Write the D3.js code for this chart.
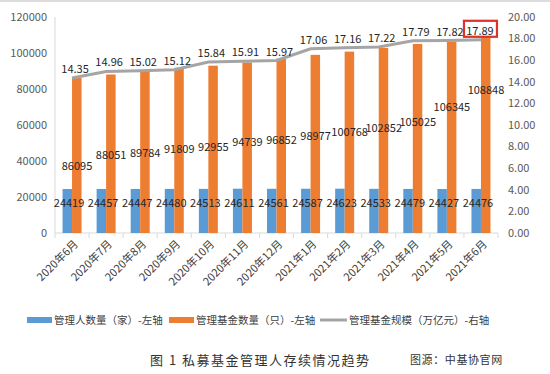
<!DOCTYPE html>
<html>
<head>
<meta charset="utf-8">
<script src="https://cdn.jsdelivr.net/npm/d3@7"></script>
<style>
  body { margin: 0; background: #fff; }
  svg text { font-family: "Noto Sans CJK SC", "Liberation Sans", sans-serif; }
</style>
</head>
<body>
<div id="chart"></div>
<script>
// data
var months = ["2020年6月", "2020年7月", "2020年8月", "2020年9月", "2020年10月", "2020年11月", "2020年12月",
              "2021年1月", "2021年2月", "2021年3月", "2021年4月", "2021年5月", "2021年6月"];
var managers = [24419, 24457, 24447, 24480, 24513, 24611, 24561, 24587, 24623, 24533, 24479, 24427, 24476];
var funds = [86095, 88051, 89784, 91809, 92955, 94739, 96852, 98977, 100768, 102852, 105025, 106345, 108848];
var scale = [14.35, 14.96, 15.02, 15.12, 15.84, 15.91, 15.97, 17.06, 17.16, 17.22, 17.79, 17.82, 17.89];
var leftTicks = [0, 20000, 40000, 60000, 80000, 100000, 120000];
var rightTicks = [0, 2, 4, 6, 8, 10, 12, 14, 16, 18, 20];
var legendNames = ["管理人数量（家）-左轴", "管理基金数量（只）-左轴", "管理基金规模（万亿元）-右轴"];

var width = 550, height = 374;
var margin = {top: 17, right: 52, bottom: 141, left: 55};
var innerW = width - margin.left - margin.right;
var innerH = height - margin.top - margin.bottom;

var blue = "#5b9bd5", orange = "#ed7d31", gray = "#a5a5a5", txt = "#404040";

var svg = d3.select("#chart").append("svg")
  .attr("width", width)
  .attr("height", height);

svg.append("line")
  .attr("x1", 0).attr("x2", width).attr("y1", 1).attr("y2", 1)
  .attr("stroke", "#dcdcdc").attr("stroke-width", 2);

var g = svg.append("g")
  .attr("transform", `translate(${margin.left},${margin.top})`);

var x = d3.scaleBand().domain(months).range([0, innerW]);
var yL = d3.scaleLinear().domain([0, 120000]).range([innerH, 0]);
var yR = d3.scaleLinear().domain([0, 20]).range([innerH, 0]);
var barW = 9.5;
var cx = function(i) { return x(months[i]) + x.bandwidth() / 2; };

// axes
g.append("line")
  .attr("x1", 0).attr("x2", 0).attr("y1", 0).attr("y2", innerH)
  .attr("stroke", "#d9d9d9");

var xAxis = g.append("g")
  .attr("transform", `translate(0,${innerH})`);
xAxis.append("line")
  .attr("x1", 0).attr("x2", innerW)
  .attr("stroke", "#d9d9d9");
xAxis.selectAll(".tk")
  .data(months.concat([null]))
  .enter().append("line")
  .attr("x1", function(d, i) { return i * x.step(); })
  .attr("x2", function(d, i) { return i * x.step(); })
  .attr("y1", 0).attr("y2", 5)
  .attr("stroke", "#d9d9d9");

xAxis.selectAll(".xl")
  .data(months)
  .enter().append("text")
  .attr("transform", function(d, i) { return `translate(${cx(i) + 4},${9}) rotate(-45)`; })
  .attr("text-anchor", "end")
  .attr("dy", "0.35em")
  .attr("font-size", 11)
  .attr("fill", txt)
  .text(function(d) { return d; });

g.selectAll(".yl")
  .data(leftTicks)
  .enter().append("text")
  .attr("x", -8)
  .attr("y", function(d) { return yL(d); })
  .attr("dy", "0.35em")
  .attr("text-anchor", "end")
  .attr("font-size", 11)
  .attr("fill", "#595959")
  .text(function(d) { return d; });

g.selectAll(".yr")
  .data(rightTicks)
  .enter().append("text")
  .attr("x", innerW + 10)
  .attr("y", function(d) { return yR(d); })
  .attr("dy", "0.35em")
  .attr("font-size", 11)
  .attr("fill", "#595959")
  .text(function(d) { return d.toFixed(2); });

// bars
g.selectAll(".bm")
  .data(managers)
  .enter().append("rect")
  .attr("x", function(d, i) { return cx(i) - barW; })
  .attr("y", function(d) { return yL(d); })
  .attr("width", barW)
  .attr("height", function(d) { return innerH - yL(d); })
  .attr("fill", blue);

g.selectAll(".bf")
  .data(funds)
  .enter().append("rect")
  .attr("x", function(d, i) { return cx(i); })
  .attr("y", function(d) { return yL(d); })
  .attr("width", barW)
  .attr("height", function(d) { return innerH - yL(d); })
  .attr("fill", orange);

// line
var line = d3.line()
  .x(function(d, i) { return cx(i); })
  .y(function(d) { return yR(d); });

g.append("path")
  .datum(scale)
  .attr("d", line)
  .attr("fill", "none")
  .attr("stroke", gray)
  .attr("stroke-width", 3);

// labels
g.selectAll(".lm")
  .data(managers)
  .enter().append("text")
  .attr("x", function(d, i) { return cx(i) - 3; })
  .attr("y", function(d) { return yL(d) + 14; })
  .attr("dy", "0.35em")
  .attr("text-anchor", "middle")
  .attr("font-size", 11)
  .attr("fill", "#262626")
  .text(function(d) { return d; });

// hand-placed offsets (px below bar top) as in the original
var fundLabelDrop = [88, 81, 82, 81, 81, 80, 81, 81, 81, 80, 78, 66, 53];
g.selectAll(".lf")
  .data(funds)
  .enter().append("text")
  .attr("x", function(d, i) { return cx(i) + 5; })
  .attr("y", function(d, i) { return yL(d) + fundLabelDrop[i]; })
  .attr("dy", "0.35em")
  .attr("text-anchor", "middle")
  .attr("font-size", 11)
  .attr("fill", "#262626")
  .text(function(d) { return d; });

var last = scale.length - 1;
g.selectAll(".ls")
  .data(scale)
  .enter().append("text")
  .attr("x", function(d, i) { return i === last ? cx(i) - 1 : cx(i) + 3; })
  .attr("y", function(d) { return yR(d) - 5; })
  .attr("text-anchor", "middle")
  .attr("font-size", 11)
  .attr("fill", "#262626")
  .text(function(d) { return d.toFixed(2); });

// red box round the last value
g.append("rect")
  .attr("x", cx(last) - 17)
  .attr("y", yR(scale[last]) - 19)
  .attr("width", 33)
  .attr("height", 16)
  .attr("fill", "none")
  .attr("stroke", "#e0302a")
  .attr("stroke-width", 2.2);

// legend
var legend = svg.append("g").attr("transform", "translate(27,320)");
var lx = [0, 142, 293];
var lcol = [blue, orange, gray];
legendNames.forEach(function(name, i) {
  var it = legend.append("g").attr("transform", `translate(${lx[i]},0)`);
  if (i < 2) {
    it.append("rect").attr("x", 0).attr("y", -3).attr("width", 25).attr("height", 6).attr("fill", lcol[i]);
  } else {
    it.append("line").attr("x1", 0).attr("x2", 27).attr("y1", 0).attr("y2", 0)
      .attr("stroke", lcol[i]).attr("stroke-width", 3);
  }
  it.append("text")
    .attr("x", i < 2 ? 27 : 29)
    .attr("dy", "0.35em")
    .attr("font-size", 10.5)
    .attr("fill", txt)
    .text(name);
});

// caption
svg.append("text")
  .attr("x", 150).attr("y", 360)
  .attr("dy", "0.35em")
  .attr("font-size", 13)
  .attr("letter-spacing", 1.5)
  .attr("fill", "#333")
  .text("图 1 私募基金管理人存续情况趋势");

svg.append("text")
  .attr("x", 410).attr("y", 360)
  .attr("dy", "0.35em")
  .attr("font-size", 11)
  .attr("letter-spacing", 0.6)
  .attr("fill", "#333")
  .text("图源：中基协官网");
</script>
</body>
</html>
